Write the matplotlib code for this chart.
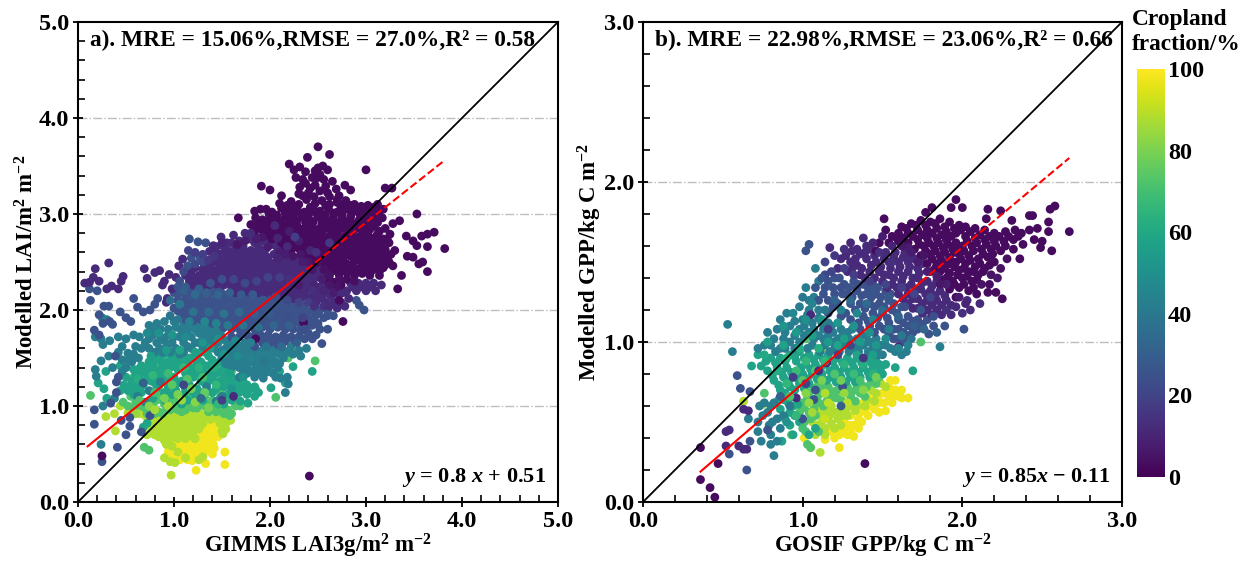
import matplotlib
matplotlib.use("Agg")
import matplotlib.pyplot as plt
from matplotlib.ticker import MultipleLocator

plt.rcParams["font.family"] = ["Liberation Serif", "DejaVu Serif"]
plt.rcParams["font.weight"] = "bold"
plt.rcParams["mathtext.fontset"] = "custom"
plt.rcParams["mathtext.rm"] = "Liberation Serif:bold"
plt.rcParams["mathtext.bf"] = "Liberation Serif:bold"
plt.rcParams["mathtext.it"] = "Liberation Serif:italic"

# panel a, points as (GIMMS LAI, modelled LAI), by cropland fraction
a_03 = [(2.50,3.70),(2.39,3.59),(2.62,3.62),(2.20,3.52),(2.25,3.46),(2.31,3.49),(2.37,3.44),(2.47,3.45),(2.55,3.50),(2.60,3.46),(2.50,3.48),(2.44,3.38),(3.00,3.46),(2.65,3.34),(2.78,3.30),(2.31,3.28),(2.37,3.32),(2.47,3.30),(2.56,3.36),(2.69,3.26),(2.84,3.25),(3.20,3.27),(3.27,3.27),(1.91,3.29),(2.00,3.25),(2.40,3.22),(2.52,3.24),(2.60,3.22),(2.72,3.19),(2.12,3.19),
(2.22,3.13),(2.30,3.10),(2.38,3.15),(2.47,3.11),(2.54,3.14),(2.62,3.10),(2.70,3.12),(2.79,3.14),(2.88,3.10),(3.02,3.09),(3.12,3.10),(3.18,3.05),
(1.96,3.05),(2.02,3.02),(2.12,3.06),(2.20,3.03),(2.28,3.05),(2.36,3.02),(2.45,3.05),(2.52,3.03),(2.61,3.05),(2.70,3.02),(2.80,3.05),(2.90,3.03),(2.98,3.05),(3.05,3.02),(3.14,3.03),
(1.85,2.96),(1.92,2.94),(2.00,2.97),(2.08,2.94),(2.16,2.97),(2.24,2.95),(2.33,2.97),(2.41,2.94),(2.50,2.97),(2.58,2.94),(2.66,2.97),(2.75,2.95),(2.84,2.97),(2.93,2.94),(3.00,2.97),(3.08,2.94),(3.17,2.96),
(1.67,2.96),(1.84,3.03),(1.90,3.05),(3.35,2.93),(3.53,3.00),(3.28,2.90),(3.20,2.85),(3.25,2.79),(3.42,2.77),(3.49,2.72),(3.58,2.77),(3.64,2.79),(3.71,2.81),(3.82,2.64),(3.64,2.66),(3.53,2.67),(3.43,2.56),(3.49,2.55),(3.55,2.48),(3.59,2.50),(3.64,2.40),(3.37,2.36),
(1.80,2.89),(1.88,2.86),(1.96,2.88),(2.04,2.85),(2.12,2.88),(2.20,2.86),(2.28,2.88),(2.36,2.85),(2.44,2.88),(2.52,2.85),(2.60,2.88),(2.68,2.86),(2.76,2.88),(2.84,2.85),(2.92,2.88),(3.00,2.85),(3.08,2.87),(3.14,2.82),
(1.98,2.78),(2.06,2.80),(2.14,2.77),(2.22,2.80),(2.30,2.77),(2.38,2.80),(2.46,2.77),(2.54,2.80),(2.62,2.77),(2.70,2.80),(2.78,2.77),(2.86,2.80),(2.94,2.77),(3.02,2.79),(3.10,2.76),(3.18,2.74),
(2.12,2.70),(2.20,2.72),(2.28,2.69),(2.36,2.72),(2.44,2.69),(2.52,2.72),(2.60,2.69),(2.68,2.72),(2.76,2.69),(2.84,2.72),(2.92,2.69),(3.00,2.71),(3.08,2.68),(3.16,2.67),(3.24,2.70),(3.30,2.62),
(2.22,2.62),(2.30,2.64),(2.38,2.61),(2.46,2.64),(2.54,2.61),(2.62,2.64),(2.70,2.61),(2.78,2.64),(2.86,2.61),(2.94,2.64),(3.02,2.61),(3.10,2.63),(3.18,2.60),(3.26,2.58),
(2.44,2.53),(2.52,2.55),(2.60,2.53),(2.68,2.56),(2.76,2.53),(2.84,2.56),(2.92,2.53),(3.00,2.55),(3.08,2.52),(3.16,2.52),(3.24,2.50),
(2.62,2.45),(2.70,2.47),(2.78,2.44),(2.86,2.47),(2.94,2.44),(3.02,2.46),(3.10,2.44),(3.18,2.44),(2.72,2.37),(2.80,2.39),(2.88,2.36),(2.96,2.38),(3.04,2.36),(3.14,2.36),
(2.41,0.27),(0.25,0.48),(2.35,1.87),(2.76,1.88),(3.33,2.22),(2.72,2.10),(2.58,2.32),(2.66,2.29),(2.74,2.26),(1.85,1.70),
(2.26,3.08),(2.42,3.07),(2.58,3.09),(2.74,3.07),(2.84,3.09),(2.95,3.08),(3.08,3.07),(1.99,3.00),(2.07,2.99),(2.16,3.01),(2.24,2.99),(2.32,3.01),(2.40,2.99),(2.48,3.01),(2.57,2.99),(2.66,3.01),(2.75,2.99),(2.85,3.01),(2.94,2.99),(3.02,3.01),(3.10,2.99),
(1.88,2.91),(1.96,2.92),(2.04,2.90),(2.12,2.92),(2.20,2.90),(2.28,2.93),(2.37,2.91),(2.45,2.92),(2.54,2.90),(2.62,2.92),(2.70,2.91),(2.80,2.92),(2.88,2.90),(2.97,2.92),(3.04,2.90),(3.12,2.91),
(1.84,2.82),(1.92,2.83),(2.00,2.84),(2.08,2.82),(2.16,2.84),(2.24,2.82),(2.32,2.84),(2.40,2.83),(2.48,2.82),(2.56,2.84),(2.64,2.82),(2.72,2.84),(2.80,2.82),(2.88,2.84),(2.96,2.82),(3.04,2.84),(3.12,2.79),
(2.02,2.74),(2.10,2.75),(2.18,2.74),(2.26,2.73),(2.34,2.75),(2.42,2.74),(2.50,2.75),(2.58,2.73),(2.66,2.75),(2.74,2.73),(2.82,2.75),(2.90,2.73),(2.98,2.75),(3.06,2.73),(3.14,2.72),(3.22,2.74),
(2.16,2.66),(2.24,2.67),(2.32,2.65),(2.40,2.67),(2.48,2.65),(2.56,2.67),(2.64,2.65),(2.72,2.67),(2.80,2.65),(2.88,2.67),(2.96,2.65),(3.04,2.66),(3.12,2.65),(3.20,2.63),
(2.34,2.58),(2.42,2.57),(2.50,2.59),(2.58,2.57),(2.66,2.59),(2.74,2.57),(2.82,2.59),(2.90,2.57),(2.98,2.59),(3.06,2.57),(3.14,2.56),(3.22,2.54),
(2.48,2.49),(2.56,2.50),(2.64,2.49),(2.72,2.50),(2.80,2.48),(2.88,2.51),(2.96,2.49),(3.04,2.50),(3.12,2.48),(3.20,2.47),(3.28,2.46),(2.66,2.41),(2.74,2.42),(2.82,2.40),(2.90,2.42),(2.98,2.41),(3.06,2.41),(3.14,2.40),
(2.34,3.36),(2.42,3.27),(2.50,3.38),(2.58,3.29),(2.62,3.18),(2.34,3.19),(2.46,3.18),(2.30,3.21),(2.76,3.10),(2.27,3.38),(2.52,3.41),(2.70,3.15),(2.18,3.09),(2.10,3.11)]
a_12 = [(0.32,2.49),(0.18,2.43),(0.69,2.43),(0.80,2.39),(0.85,2.41),(0.47,2.35),(0.16,2.34),(0.72,2.33),(0.12,2.29),(0.07,2.28),(0.22,2.30),(0.30,2.22),(0.35,2.25),(0.42,2.22),(0.45,2.30),(1.02,2.34),(0.95,2.37),(1.05,2.46),(1.09,2.53),(0.90,2.30),(0.98,2.22),(0.88,2.26),(0.93,2.12),(0.92,2.08),
(1.41,2.67),(1.49,2.76),(1.55,2.70),(1.37,2.61),(1.62,2.78),(1.68,2.72),(1.74,2.80),(1.78,2.74),(1.84,2.78),(1.92,2.72),(1.56,2.62),(1.64,2.64),(1.72,2.66),(1.80,2.62),(1.88,2.66),(1.96,2.64),(2.04,2.68),(1.48,2.56),(1.56,2.54),(1.64,2.56),(1.72,2.54),(1.80,2.56),(1.88,2.54),(1.96,2.56),(2.04,2.58),(2.12,2.62),(2.18,2.54),(2.28,2.52),(2.36,2.54),
(1.38,2.48),(1.46,2.48),(1.54,2.46),(1.62,2.48),(1.70,2.46),(1.78,2.48),(1.86,2.46),(1.94,2.48),(2.02,2.46),(2.10,2.48),(2.18,2.46),(2.26,2.44),(2.34,2.46),(2.42,2.44),(2.50,2.46),(1.31,2.44),(1.18,2.40),(1.26,2.36),(1.34,2.38),(1.42,2.40),(1.50,2.38),(1.58,2.40),(1.66,2.38),(1.74,2.40),(1.82,2.38),(1.90,2.40),(1.98,2.38),(2.06,2.40),(2.14,2.38),(2.22,2.36),(2.30,2.38),(2.38,2.36),(2.46,2.38),(2.54,2.38),
(1.16,2.30),(1.24,2.28),(1.32,2.30),(1.40,2.32),(1.48,2.30),(1.56,2.32),(1.64,2.30),(1.72,2.32),(1.80,2.30),(1.88,2.32),(1.96,2.30),(2.04,2.32),(2.12,2.30),(2.20,2.28),(2.28,2.30),(2.36,2.28),(2.44,2.30),(2.52,2.24),(2.60,2.24),(2.68,2.20),(2.76,2.18),(2.84,2.28),(2.92,2.28),(3.00,2.28),(3.08,2.28),(3.16,2.26),(3.10,2.20),(3.00,2.20),(2.90,2.20),(2.82,2.12),(2.70,2.02),(2.78,2.04),(2.62,2.16),(2.50,2.16),(2.58,2.08),(2.48,2.08),(2.40,2.22),(2.32,2.20),(2.24,2.20),(2.16,2.22),(2.08,2.24),(2.00,2.22),(1.92,2.24),(1.84,2.22),(1.76,2.24),(1.68,2.22),(1.60,2.24),(2.40,2.12),(2.32,2.12),(2.24,2.12),(2.16,2.14),(2.08,2.16),
(1.52,2.66),(1.60,2.70),(1.68,2.64),(1.76,2.60),(1.84,2.70),(1.92,2.60),(2.00,2.72),(2.08,2.64),(1.44,2.60),(1.52,2.60),(1.60,2.58),(1.68,2.60),(1.76,2.58),(1.84,2.60),(1.42,2.52),(1.50,2.52),(1.58,2.50),(1.66,2.52),(1.74,2.50),(1.82,2.52),(1.90,2.50),(1.98,2.52),(2.06,2.50),(2.14,2.52),(2.22,2.50),(2.30,2.48),(2.38,2.49),
(1.22,2.44),(1.30,2.42),(1.38,2.43),(1.46,2.43),(1.54,2.42),(1.62,2.44),(1.70,2.42),(1.78,2.44),(1.86,2.42),(1.94,2.44),(2.02,2.42),(2.10,2.44),(2.18,2.42),(2.26,2.40),(2.34,2.42),(2.42,2.40),(2.50,2.41),(2.58,2.42),
(1.12,2.36),(1.20,2.34),(1.28,2.33),(1.36,2.34),(1.44,2.36),(1.52,2.34),(1.60,2.36),(1.68,2.34),(1.76,2.36),(1.84,2.34),(1.92,2.36),(2.00,2.34),(2.08,2.36),(2.16,2.34),(2.24,2.32),(2.32,2.34),(2.40,2.32),(2.48,2.34),(2.56,2.28),
(1.20,2.26),(1.28,2.24),(1.36,2.26),(1.44,2.27),(1.52,2.26),(1.60,2.28),(1.68,2.26),(1.76,2.28),(1.84,2.26),(1.92,2.28),(2.00,2.26),(2.08,2.28),(2.16,2.26),(2.24,2.24),(2.32,2.25),(2.40,2.26),(2.48,2.22),(2.56,2.18),(2.64,2.14),(2.72,2.16),(2.80,2.20),(2.86,2.24),(2.96,2.24),(3.04,2.24),(2.28,2.16),(2.36,2.16),(2.44,2.14),(2.20,2.16),(2.12,2.18),(2.04,2.18),(1.96,2.18),(1.88,2.18),(1.80,2.18),(1.72,2.18),(1.64,2.18),(2.54,2.12),(2.66,2.08),(2.74,2.08)]
a_25 = [(1.16,2.74),(1.25,2.71),(1.33,2.70),(1.18,2.54),(1.27,2.55),(0.12,2.22),(0.20,2.20),(0.13,2.10),(0.27,2.04),(0.32,2.04),(0.22,1.95),(0.44,1.98),(0.58,2.12),(0.62,2.03),(0.68,1.98),(0.75,2.00),(0.80,2.06),(0.83,2.12),(0.50,1.92),(0.55,1.88),(0.33,1.88),(0.17,1.79),(0.22,1.74),(0.36,1.85),(0.26,1.86),(0.17,0.96),(0.17,0.81),(0.25,0.42),(0.41,0.57),(0.50,0.70),(0.54,0.79),(0.66,0.73),(0.75,0.90),(0.45,0.85),(0.34,1.03),(0.40,1.14),(0.42,1.30),(0.39,1.52),(0.40,1.25),
(1.00,2.18),(1.08,2.22),(1.16,2.20),(1.24,2.22),(1.32,2.20),(1.40,2.22),(1.48,2.20),(1.04,2.10),(1.12,2.12),(1.20,2.10),(1.28,2.12),(1.36,2.10),(1.44,2.12),(1.52,2.12),(1.60,2.14),(1.68,2.12),(1.76,2.14),(1.84,2.12),(1.92,2.14),(2.00,2.12),(1.00,2.02),(1.08,2.04),(1.16,2.02),(1.24,2.04),(1.32,2.02),(1.40,2.04),(1.48,2.02),(1.56,2.04),(1.64,2.04),(1.72,2.06),(1.80,2.04),(1.88,2.06),(1.96,2.04),(2.04,2.06),(2.12,2.04),(2.20,2.04),(2.28,2.04),(2.36,2.04),(2.44,2.00),(2.52,2.00),(2.60,2.00),(2.66,1.94),(2.56,1.92),(2.46,1.92),(2.36,1.96),(2.28,1.96),(2.20,1.96),(2.12,1.96),(2.04,1.98),(1.96,1.96),(1.88,1.98),(1.80,1.96),(1.72,1.98),(1.64,1.96),(1.56,1.96),(1.48,1.94),(1.40,1.96),(1.32,1.94),(1.24,1.96),(1.16,1.94),(1.08,1.96),
(1.40,1.86),(1.48,1.86),(1.56,1.88),(1.64,1.88),(1.72,1.90),(1.80,1.88),(1.88,1.90),(1.96,1.88),(2.04,1.90),(2.12,1.88),(2.20,1.88),(2.28,1.88),(2.44,1.84),(2.52,1.80),(2.60,1.80),(2.48,1.74),(2.40,1.76),(2.32,1.78),(2.24,1.80),(2.16,1.80),(2.08,1.82),(2.00,1.80),(1.92,1.82),(1.84,1.80),(1.76,1.82),(1.68,1.80),(1.60,1.80),(1.90,1.74),(1.98,1.74),(2.06,1.72),(2.14,1.74),(2.22,1.72),(2.30,1.72),(2.54,1.65),(2.15,1.67),(2.08,1.64),(2.00,1.66),(1.92,1.66),(1.84,1.62),(1.76,1.74),(1.68,1.72),(1.60,1.72),(2.98,2.00),(2.93,2.05),(2.90,2.10),
(1.04,2.16),(1.12,2.16),(1.20,2.15),(1.28,2.17),(1.36,2.16),(1.44,2.17),(1.52,2.16),(1.08,2.08),(1.16,2.07),(1.24,2.08),(1.32,2.07),(1.40,2.08),(1.48,2.07),(1.56,2.08),(1.64,2.09),(1.72,2.10),(1.80,2.08),(1.88,2.10),(1.96,2.08),(2.04,2.10),(2.12,2.09),(2.20,2.08),(2.28,2.08),(1.04,1.99),(1.12,1.98),(1.20,2.00),(1.28,1.99),(1.36,2.00),(1.44,1.98),(1.52,2.00),(1.60,2.00),(1.68,2.01),(1.76,2.02),(1.84,2.00),(1.92,2.01),(2.00,2.00),(2.08,2.02),(2.16,2.00),(2.24,2.00),(2.32,2.00),(2.40,1.98),(2.50,1.96),(2.60,1.94),
(1.12,1.90),(1.20,1.89),(1.28,1.90),(1.36,1.90),(1.44,1.90),(1.52,1.92),(1.60,1.92),(1.68,1.93),(1.76,1.94),(1.84,1.92),(1.92,1.93),(2.00,1.92),(2.08,1.94),(2.16,1.92),(2.24,1.92),(2.32,1.92),(2.40,1.90),(2.50,1.86),(2.40,1.84),(2.32,1.84),(2.24,1.86),(2.16,1.84),(2.08,1.86),(2.00,1.84),(1.92,1.86),(1.84,1.84),(1.76,1.86),(1.68,1.84),(1.60,1.84),(1.52,1.82),(2.44,1.70),(2.36,1.70),(2.26,1.68),(2.18,1.70),(2.10,1.68),(2.02,1.70),(1.94,1.70),(1.86,1.76),(1.80,1.72),(1.72,1.76)]
a_42 = [(0.24,0.60),(0.26,1.00),(0.38,1.08),(0.25,1.92),(0.30,1.90),(0.18,1.72),(0.26,1.64),(0.24,1.70),(0.33,1.68),(0.42,1.72),(0.46,1.62),(0.50,1.70),(0.42,1.56),(0.58,1.74),(0.64,1.72),(0.60,1.62),(0.52,1.55),(0.24,1.47),(0.18,1.38),(0.19,1.31),(0.36,1.40),(0.50,1.40),(0.56,1.46),(0.63,1.50),(0.70,1.66),(0.78,1.74),(0.86,1.72),(0.94,1.80),(1.00,1.88),(0.74,1.84),(0.82,1.86),(0.90,1.88),(0.85,1.60),(0.93,1.62),(1.00,1.72),(1.08,1.78),(1.16,1.82),(1.24,1.86),(1.32,1.84),(1.02,1.60),(1.10,1.66),(1.18,1.72),(1.26,1.76),(1.34,1.76),(1.42,1.78),(1.50,1.80),(1.10,1.56),(1.18,1.60),(1.26,1.66),(1.34,1.68),(1.42,1.70),(1.50,1.72),(1.58,1.64),(1.66,1.64),(1.74,1.66),(1.42,1.60),(1.50,1.58),(1.58,1.56),(1.66,1.56),(1.74,1.58),(1.82,1.54),(1.90,1.56),(1.98,1.58),(2.06,1.56),(2.14,1.58),(2.22,1.62),(2.30,1.58),(2.38,1.60),(2.32,1.52),(2.24,1.54),(1.50,1.50),(1.58,1.48),(1.66,1.48),(1.74,1.50),(1.82,1.46),(1.90,1.48),(1.98,1.50),(2.06,1.46),(2.14,1.50),(2.19,1.23),(1.60,1.40),(1.68,1.40),(1.76,1.42),(1.84,1.38),(1.92,1.40),(2.00,1.42),(2.08,1.40),(1.34,1.20),(1.44,1.05),(1.50,1.10),(1.68,1.30),(1.76,1.34),(1.84,1.30),(1.93,1.29),(2.03,1.34),(2.11,1.29),(2.16,1.14),(2.18,1.30),(0.70,1.04),(0.62,1.10),(0.74,1.16),(0.86,1.25),
(0.78,1.80),(0.86,1.80),(0.94,1.74),(1.02,1.82),(1.10,1.84),(1.18,1.86),(1.28,1.82),(1.36,1.80),(1.44,1.82),(0.74,1.70),(0.82,1.66),(0.90,1.68),(0.98,1.66),(1.06,1.72),(1.14,1.76),(1.22,1.80),(1.30,1.72),(1.38,1.72),(1.46,1.74),(0.66,1.60),(0.74,1.60),(0.80,1.56),(0.88,1.56),(0.96,1.56),(1.06,1.54),(1.14,1.62),(1.22,1.66),(1.30,1.62),(1.38,1.64),(1.46,1.66),(1.54,1.68),(1.62,1.68),(1.54,1.60),(1.62,1.60),(1.70,1.60),(1.78,1.62),(1.86,1.58),(1.94,1.60),(2.02,1.60),(2.10,1.60),(1.46,1.56),(1.54,1.54),(1.62,1.52),(1.70,1.52),(1.78,1.54),(1.86,1.52),(1.94,1.54),(2.02,1.52),(2.10,1.54),(2.18,1.56),(1.54,1.44),(1.62,1.44),(1.70,1.44),(1.78,1.46),(1.86,1.42),(1.94,1.44),(2.02,1.46),(2.10,1.44),(1.72,1.36),(1.80,1.36),(1.88,1.34),(1.96,1.35),(2.06,1.30),(0.46,1.48),(0.52,1.48),(0.46,1.36),(0.32,1.52),(0.58,1.54)]
a_58 = [(0.29,1.36),(0.21,1.24),(0.27,1.18),(0.30,1.08),(0.44,1.42),(0.50,1.30),(0.58,1.38),(0.66,1.42),(0.74,1.46),(0.82,1.50),(0.90,1.54),(0.98,1.50),(1.06,1.48),(1.14,1.44),(0.56,1.26),(0.64,1.30),(0.72,1.34),(0.80,1.38),(0.88,1.42),(0.96,1.40),(1.04,1.38),(1.12,1.34),(1.20,1.50),(1.28,1.56),(1.36,1.52),(1.20,1.40),(1.28,1.46),(1.36,1.42),(1.44,1.44),(1.52,1.40),(1.60,1.30),(1.20,1.30),(1.28,1.36),(1.36,1.32),(1.44,1.34),(1.52,1.30),(1.60,1.22),(1.68,1.22),(1.76,1.22),(1.84,1.20),(2.01,1.19),(2.16,1.24),(2.24,1.41),(2.44,1.36),(2.10,1.36),(1.28,1.26),(1.36,1.26),(1.44,1.24),(1.52,1.20),(1.60,1.14),(1.68,1.14),(1.76,1.12),(1.84,1.10),(1.77,1.03),(1.69,1.05),(1.60,1.06),(1.52,1.02),(1.40,1.14),(1.24,1.18),(1.16,1.22),(1.08,1.26),(1.00,1.30),(0.92,1.34),(0.84,1.30),(0.76,1.26),(0.68,1.22),(0.60,1.18),(0.52,1.16),(1.10,1.12),(1.02,1.16),(0.94,1.20),(0.78,1.08),(0.90,1.06),(1.08,1.02),(1.22,1.06),(0.68,0.78),(0.72,0.82),
(0.62,1.38),(0.70,1.40),(0.78,1.44),(0.86,1.48),(0.94,1.46),(1.02,1.52),(1.10,1.50),(1.16,1.50),(1.24,1.52),(1.32,1.56),(0.60,1.32),(0.68,1.36),(0.76,1.38),(0.84,1.36),(0.92,1.40),(1.00,1.44),(1.08,1.42),(1.16,1.34),(1.24,1.44),(1.32,1.42),(1.40,1.48),(1.48,1.46),(1.56,1.34),(1.24,1.34),(1.32,1.34),(1.40,1.38),(1.48,1.36),(1.56,1.28),(1.64,1.26),(1.72,1.18),(1.80,1.18),(1.88,1.14),(1.32,1.24),(1.40,1.28),(1.48,1.26),(1.56,1.22),(1.64,1.18),(1.56,1.12),(1.48,1.08),(1.44,1.18),(1.28,1.14),(1.20,1.14),(1.12,1.18),(1.04,1.24),(0.96,1.26),(0.88,1.28),(0.80,1.24),(0.72,1.28),(0.64,1.24),(0.56,1.22),(0.48,1.22),(0.44,1.16),(0.58,1.12),(0.66,1.14),(0.82,1.18),(0.90,1.14),(0.98,1.12),(1.06,1.10),(1.14,1.06),(1.30,1.06)]
a_72 = [(0.13,1.11),(0.47,1.04),(0.55,1.10),(0.62,1.16),(0.70,0.98),(0.78,1.00),(0.86,1.10),(0.94,1.12),(0.84,1.20),(0.52,1.00),(0.60,1.04),(0.46,1.48),(0.58,1.30),(0.82,1.44),(1.02,1.44),(1.16,1.38),(1.24,1.14),(1.32,1.10),(1.40,1.06),(1.48,1.14),(1.56,1.08),(1.64,1.00),(1.69,1.00),(1.85,1.18),(1.72,1.26),(1.60,1.36),(2.06,1.09),(2.47,1.47),(2.19,1.50),(1.16,1.12),(1.00,1.00),(0.92,0.96),(0.84,0.94),(0.76,0.94),(1.08,0.94),(1.16,1.02),(1.24,0.98),(1.32,1.00),(1.40,0.96),(1.48,0.96),(1.56,0.96),(1.60,0.92),(0.69,0.57),(0.74,0.54),(1.04,1.08),
(0.58,0.98),(0.66,1.00),(0.74,1.04),(0.82,1.06),(0.90,1.02),(0.96,1.06),(1.04,1.02),(1.12,1.00),(1.20,0.98),(1.28,1.02),(1.36,1.02),(1.44,1.00),(1.52,0.98),(0.72,0.92),(0.80,0.92),(0.88,0.92),(0.96,0.96),(1.04,0.96),(1.12,0.96),(1.36,0.94),(1.44,0.94),(1.52,0.92),(1.58,0.90)]
a_88 = [(0.29,0.89),(0.38,0.92),(0.39,0.74),(0.44,1.00),(0.52,0.93),(0.58,0.96),(0.64,0.92),(0.70,0.90),(0.74,0.84),(0.80,0.86),(0.86,0.88),(0.92,0.88),(0.98,0.92),(1.04,0.88),(1.10,0.90),(1.16,0.94),(1.22,0.90),(1.28,0.92),(1.34,0.90),(1.40,0.88),(1.46,0.90),(1.52,0.88),(0.76,0.76),(0.82,0.78),(0.88,0.80),(0.94,0.80),(1.00,0.82),(1.06,0.80),(1.12,0.84),(1.18,0.82),(1.24,0.84),(1.30,0.82),(1.48,0.82),(1.54,0.82),(1.59,0.85),(0.72,0.70),(0.80,0.70),(0.84,0.68),(0.90,0.72),(0.96,0.74),(1.02,0.74),(1.08,0.72),(1.14,0.76),(1.20,0.74),(1.26,0.76),(1.50,0.74),(1.51,0.71),(0.97,0.28),(0.90,0.46),(1.01,0.41),(1.12,0.46),(1.26,0.44),(1.30,0.47),(0.96,0.66),(1.04,0.66),(1.12,0.66),(1.20,0.68),(0.90,0.64),(0.98,0.58),
(0.78,0.82),(0.84,0.84),(0.90,0.84),(0.96,0.86),(1.02,0.86),(1.08,0.84),(1.14,0.88),(1.20,0.86),(1.26,0.88),(1.32,0.86),(1.38,0.86),(0.86,0.74),(0.92,0.76),(0.98,0.78),(1.04,0.76),(1.10,0.78),(1.16,0.80),(1.22,0.78),(1.28,0.80),(1.46,0.86),(1.54,0.76),(1.00,0.70),(1.06,0.68),(1.14,0.70),(1.22,0.66),(0.92,0.60),(1.04,0.52),(0.96,0.42)]
a_98 = [(1.23,0.33),(1.53,0.39),(1.33,0.40),(1.19,0.43),(1.40,0.50),(1.53,0.52),(1.41,0.60),(1.35,0.60),(1.28,0.56),(1.22,0.50),(1.14,0.50),(1.06,0.50),(0.98,0.48),(1.02,0.56),(1.08,0.58),(1.16,0.58),(1.24,0.62),(1.32,0.66),(1.38,0.70),(1.44,0.72),(1.30,0.72),(1.36,0.78),(1.42,0.80),(1.38,0.84),(1.44,0.76),(1.24,0.68),(1.16,0.64),(1.08,0.62),(1.00,0.62),(0.94,0.58),(0.94,0.52),(1.36,0.54),(1.30,0.62),(1.18,0.52),(1.10,0.54),
(1.26,0.50),(1.32,0.52),(1.20,0.56),(1.12,0.60),(1.04,0.60),(1.28,0.66),(1.34,0.72),(1.40,0.66),(1.46,0.68),(1.32,0.78),(1.26,0.72),(1.20,0.62),(1.36,0.64),(1.42,0.56),(1.14,0.44),(1.06,0.44)]
# panel a points whose colour stands out from their neighbours: (x, y, fraction)
a_mixed = [(2.08,2.75,10),(2.18,2.66,12),(2.30,2.72,8),(2.42,2.62,10),(2.05,2.88,12),(2.20,2.82,8),(2.10,2.60,8),(2.24,2.56,6),(2.32,2.58,6),(2.16,2.58,8),(2.08,2.54,10),(2.40,2.50,6),(2.50,2.50,4),(2.56,2.42,4),(2.44,2.42,6),(2.34,2.50,8),(2.48,2.60,14),(2.62,2.70,16),(2.26,2.76,18),(1.98,2.66,8),(1.92,2.76,6),(1.86,2.74,8),(1.80,2.80,12),(1.74,2.72,8),(1.66,2.68,6),
(1.15,2.62,20),(1.22,2.60,18),(1.30,2.58,18),(1.30,2.50,22),(1.22,2.48,22),(1.14,2.46,25),(1.42,2.56,15),(1.36,2.52,16),(1.44,2.66,12),(1.50,2.70,10),(1.10,2.40,22),(1.06,2.30,24),(1.12,2.24,28),(1.04,2.24,26),
(2.72,2.32,4),(2.80,2.32,3),(2.88,2.30,4),(2.62,2.36,5),(2.54,2.32,8),(2.46,2.26,10),(2.62,2.26,6),(2.70,2.24,5),(2.56,2.20,10),(2.66,2.18,8),(2.44,2.20,14),(2.34,2.30,12),(2.20,2.32,14),(2.30,2.26,8),(2.10,2.34,18),(1.98,2.34,20),(1.86,2.30,20),(1.74,2.28,22),(1.62,2.32,20),(1.50,2.32,24),(1.38,2.28,26),(1.26,2.22,30),
(2.40,2.08,18),(2.30,2.08,20),(2.18,2.10,22),(2.06,2.14,24),(1.94,2.10,26),(1.82,2.16,28),(1.70,2.16,28),(1.58,2.18,30),(1.46,2.16,32),(1.34,2.18,30),(1.22,2.16,34),(1.10,2.20,30),(2.46,2.04,14),(2.56,2.04,14),(2.62,2.04,12),(2.34,1.92,20),(2.18,1.92,24),(2.00,1.96,28),(1.84,1.96,30),(1.68,1.98,34),(1.52,1.96,38),(1.36,1.98,34),(1.20,1.98,38),(1.06,2.06,40),(0.96,2.10,34),(0.96,1.94,38),(1.04,1.90,40),
(2.36,1.80,24),(2.20,1.84,30),(2.04,1.84,32),(1.88,1.82,36),(1.72,1.84,38),(1.56,1.84,40),(1.44,1.86,44),(1.32,1.88,46),(1.16,1.88,44),(2.28,1.66,30),(2.12,1.62,34),(1.96,1.62,38),(1.80,1.66,42),(1.64,1.68,46),(1.46,1.70,50),(1.30,1.66,52),(1.12,1.72,48),(0.98,1.74,52),(0.84,1.76,50),(0.72,1.76,48),
(1.94,1.46,40),(1.80,1.50,44),(1.66,1.52,48),(1.52,1.54,52),(1.38,1.60,54),(1.22,1.56,56),(1.06,1.58,58),(0.92,1.58,54),(0.76,1.52,56),(1.72,1.30,50),(1.58,1.34,56),(1.42,1.40,62),(1.26,1.40,64),(1.10,1.40,66),(0.94,1.34,68),(0.78,1.32,66),(0.62,1.28,62),(1.60,1.18,52),(1.44,1.22,66),(1.30,1.30,70),(1.14,1.28,72),(0.98,1.22,74),(0.80,1.14,70),(0.64,1.06,72),(1.46,1.02,66),(1.32,1.14,76),(1.18,1.18,78),(1.04,1.12,80),(0.90,1.08,80),(0.74,1.00,82),(0.60,0.92,84),(1.36,0.98,80),(1.22,1.04,82),(1.08,1.06,84),(0.94,1.00,86),(0.80,0.96,86),(0.54,0.88,25),(0.68,1.24,30),(1.10,1.22,20),(1.28,1.08,35),(1.50,1.06,18),(1.62,1.10,12)]

# panel b, (GOSIF GPP, modelled GPP), by cropland fraction
b_03 = [(1.96,1.89),(1.81,1.84),(1.77,1.81),(1.93,1.84),(2.00,1.84),(2.16,1.83),(2.24,1.82),(2.58,1.85),(2.55,1.83),(2.42,1.79),(2.44,1.79),(1.51,1.77),(2.67,1.69),(2.56,1.57),(2.54,1.75),(2.31,1.76),(2.15,1.77),(2.36,1.52),(2.49,1.59),(2.54,1.69),(2.47,1.71),(2.42,1.70),(2.37,1.68),(2.50,1.63),(2.45,1.64),(2.38,1.61),(2.32,1.58),(2.24,1.57),(2.20,1.50),(2.25,1.27),(2.21,1.31),(2.16,1.31),(2.09,1.30),(2.17,1.36),(1.39,0.24),(0.36,0.34),(0.36,0.14),(0.42,0.09),(0.45,0.03),(0.47,0.24),
(1.62,1.72),(1.68,1.74),(1.74,1.76),(1.80,1.75),(1.86,1.77),(1.92,1.75),(1.98,1.73),(1.52,1.70),(1.56,1.66),(1.60,1.68),(1.66,1.68),(1.72,1.70),(1.78,1.70),(1.84,1.71),(1.90,1.69),(1.96,1.68),(2.02,1.72),(2.08,1.71),(2.14,1.70),(2.20,1.68),(2.27,1.69),(2.33,1.70),(1.48,1.62),(1.54,1.62),(1.60,1.63),(1.66,1.62),(1.72,1.64),(1.78,1.65),(1.84,1.65),(1.90,1.64),(1.96,1.62),(2.02,1.66),(2.08,1.65),(2.14,1.64),(2.20,1.63),(2.26,1.63),(2.32,1.64),
(1.46,1.57),(1.70,1.58),(1.76,1.60),(1.82,1.60),(1.88,1.59),(1.94,1.58),(2.00,1.60),(2.06,1.60),(2.12,1.58),(2.18,1.58),(1.74,1.54),(1.80,1.55),(1.86,1.54),(1.92,1.53),(1.98,1.55),(2.04,1.54),(2.10,1.52),(2.16,1.53),(1.78,1.49),(1.84,1.49),(1.90,1.48),(1.96,1.50),(2.02,1.49),(2.08,1.47),(2.14,1.46),(1.80,1.44),(1.86,1.44),(1.92,1.43),(1.98,1.45),(2.04,1.44),(2.10,1.42),(1.88,1.39),(1.94,1.38),(2.00,1.40),(2.06,1.38),(1.92,1.33),(1.98,1.34),(2.04,1.32),(1.96,1.28),
(1.65,1.71),(1.71,1.73),(1.77,1.73),(1.83,1.74),(1.89,1.72),(1.95,1.71),(1.59,1.65),(1.63,1.65),(1.69,1.66),(1.75,1.67),(1.81,1.68),(1.87,1.67),(1.93,1.66),(1.99,1.70),(2.05,1.69),(2.11,1.67),(2.17,1.66),(2.23,1.66),(2.29,1.66),(2.35,1.66),(1.73,1.61),(1.79,1.62),(1.85,1.62),(1.91,1.61),(1.97,1.59),(2.03,1.63),(2.09,1.62),(2.15,1.61),(2.21,1.60),(2.27,1.60),(1.77,1.57),(1.83,1.57),(1.89,1.56),(1.95,1.56),(2.01,1.57),(2.07,1.57),(2.13,1.55),(2.19,1.55),(1.81,1.52),(1.87,1.51),(1.93,1.50),(1.99,1.52),(2.05,1.51),(2.11,1.49),(2.17,1.48),(1.83,1.46),(1.89,1.46),(1.95,1.47),(2.01,1.46),(2.07,1.44),(2.13,1.44),(1.91,1.41),(1.97,1.42),(2.03,1.41),(2.09,1.39),(1.95,1.36),(2.01,1.36),(2.07,1.34)]
b_12 = [(1.17,1.59),(1.30,1.62),(1.38,1.65),(1.31,1.57),(1.24,1.52),(1.30,1.50),(1.22,1.46),(1.36,1.55),(1.42,1.58),(1.28,1.44),(1.34,1.48),(1.40,1.52),(1.46,1.50),(1.52,1.56),(1.58,1.56),(1.64,1.56),(1.70,1.52),(1.36,1.42),(1.42,1.44),(1.48,1.44),(1.54,1.50),(1.60,1.50),(1.66,1.50),(1.72,1.46),(1.54,1.42),(1.60,1.44),(1.66,1.44),(1.72,1.40),(1.78,1.38),(1.84,1.38),(1.50,1.38),(1.56,1.36),(1.62,1.38),(1.68,1.36),(1.74,1.33),(1.80,1.32),(1.86,1.32),(1.60,1.30),(1.66,1.30),(1.72,1.27),(1.78,1.26),(1.84,1.26),(1.90,1.26),(1.66,1.24),(1.72,1.21),(1.78,1.20),(1.84,1.20),(2.03,1.26),(2.11,1.24),(2.05,1.20),(1.93,1.17),(1.60,0.97),(0.52,0.35),(0.60,0.35),(0.63,0.33),(0.65,0.33),(0.52,0.44),(0.54,0.45),(0.63,0.58),(0.66,0.57),(0.96,0.65),(1.05,1.17),(1.15,0.87),
(1.27,1.54),(1.33,1.52),(1.39,1.56),(1.45,1.54),(1.51,1.52),(1.57,1.53),(1.63,1.53),(1.67,1.53),(1.31,1.46),(1.37,1.46),(1.43,1.48),(1.49,1.47),(1.55,1.46),(1.61,1.47),(1.67,1.47),(1.73,1.43),(1.75,1.49),(1.39,1.40),(1.45,1.40),(1.51,1.42),(1.57,1.40),(1.63,1.41),(1.69,1.40),(1.75,1.37),(1.81,1.35),(1.53,1.34),(1.59,1.34),(1.65,1.34),(1.71,1.33),(1.77,1.30),(1.83,1.29),(1.89,1.29),(1.63,1.27),(1.69,1.27),(1.75,1.24),(1.81,1.23),(1.87,1.23),(1.93,1.23),(1.69,1.21),(1.75,1.18),(1.81,1.17),(1.87,1.17)]
b_25 = [(1.04,1.61),(1.02,1.57),(1.20,1.40),(1.14,1.34),(1.20,1.30),(1.26,1.36),(1.32,1.38),(1.38,1.36),(1.44,1.36),(1.10,1.26),(1.16,1.26),(1.22,1.24),(1.28,1.30),(1.34,1.32),(1.40,1.30),(1.46,1.30),(1.52,1.32),(1.30,1.24),(1.36,1.24),(1.42,1.24),(1.48,1.24),(1.54,1.26),(1.50,1.18),(1.56,1.20),(1.62,1.22),(1.44,1.18),(1.38,1.16),(1.60,1.14),(1.66,1.16),(1.72,1.14),(1.78,1.14),(1.82,1.10),(1.89,1.10),(1.79,1.05),(1.72,1.08),(1.66,1.10),(1.60,1.08),(1.54,1.12),(1.66,1.04),(1.60,1.02),(1.54,1.05),(1.48,1.10),(1.42,1.10),(1.36,1.08),(1.30,1.14),(1.24,1.16),(1.16,1.18),(2.01,1.08),(1.25,0.72),(1.07,0.64),(1.00,0.52),(0.59,0.79),(0.61,0.71),(0.67,0.69),(0.65,0.20),(0.54,0.30),(0.67,0.38),(0.78,0.45),
(1.16,1.38),(1.23,1.40),(1.29,1.34),(1.35,1.36),(1.41,1.34),(1.47,1.34),(1.13,1.30),(1.19,1.34),(1.25,1.30),(1.31,1.28),(1.37,1.29),(1.43,1.28),(1.49,1.28),(1.55,1.30),(1.33,1.20),(1.39,1.21),(1.45,1.22),(1.51,1.22),(1.57,1.24),(1.59,1.18),(1.53,1.15),(1.47,1.15),(1.41,1.13),(1.35,1.12),(1.27,1.18),(1.19,1.22),(1.63,1.12),(1.69,1.13),(1.75,1.11),(1.69,1.06),(1.63,1.06),(1.57,1.08),(1.51,1.08),(1.45,1.06),(1.57,1.02),(1.63,1.00)]
b_42 = [(1.08,1.46),(1.10,1.38),(1.02,1.34),(1.07,1.28),(0.98,1.22),(1.04,1.20),(1.10,1.20),(1.00,1.14),(1.06,1.12),(1.12,1.12),(1.18,1.10),(1.24,1.08),(0.90,1.18),(0.86,1.14),(0.92,1.10),(0.98,1.08),(1.04,1.06),(1.10,1.04),(1.16,1.04),(1.22,1.02),(1.28,1.06),(1.34,1.02),(1.40,1.04),(1.46,1.02),(1.52,0.98),(1.58,0.94),(1.62,0.92),(1.65,0.94),(1.86,0.97),(0.53,1.11),(0.56,0.94),(0.78,1.06),(0.84,1.08),(0.72,0.96),(0.80,0.98),(0.86,0.96),(0.92,1.00),(0.98,1.00),(1.06,0.98),(1.14,0.98),(1.20,0.96),(1.26,0.98),(1.32,0.96),(1.38,0.98),(1.44,0.96),(1.50,0.92),(0.82,0.29),(0.66,0.52),(0.72,0.44),(0.80,0.42),(0.86,0.46),(0.84,0.52),(0.78,0.56),(0.72,0.50),(0.76,0.62),(0.82,0.62),(0.84,0.38),(0.74,0.38),(0.80,0.36),
(1.04,1.26),(1.10,1.15),(1.03,1.17),(1.16,1.12),(0.95,1.13),(1.01,1.10),(1.07,1.08),(1.13,1.08),(1.19,1.06),(1.25,1.04),(1.31,1.08),(1.37,1.04),(1.43,1.00),(1.49,0.98),(1.55,0.96),(0.89,1.06),(0.95,1.04),(1.01,1.04),(1.07,1.02),(1.13,1.02),(1.19,1.00),(1.29,1.02),(1.35,0.98),(1.41,1.00),(1.47,0.96),(0.82,1.02),(0.88,1.02),(0.76,0.98),(0.83,0.94),(0.89,0.96),(0.95,0.96),(1.03,0.96),(1.11,0.94),(1.17,0.94),(1.23,0.94),(1.29,0.94),(1.35,0.94),(1.41,0.94),(1.47,0.92),(0.79,0.48),(0.75,0.54),(0.81,0.50),(0.80,0.60),(0.73,0.60),(0.88,0.54)]
b_58 = [(0.74,0.85),(0.68,0.85),(0.72,0.92),(0.80,0.90),(0.86,0.90),(0.92,0.92),(0.98,0.94),(1.04,0.92),(1.10,0.92),(1.16,0.92),(1.22,0.90),(1.28,0.90),(1.34,0.90),(1.40,0.90),(1.46,0.90),(1.52,0.86),(1.58,0.84),(1.69,0.82),(0.78,0.82),(0.84,0.84),(0.90,0.84),(0.96,0.88),(1.02,0.86),(1.08,0.86),(1.14,0.86),(1.20,0.84),(1.26,0.84),(1.32,0.84),(1.38,0.84),(1.44,0.84),(1.50,0.80),(0.82,0.76),(0.88,0.78),(0.94,0.78),(1.00,0.80),(1.06,0.80),(1.12,0.80),(1.18,0.78),(1.24,0.78),(1.30,0.78),(1.36,0.78),(1.42,0.78),(0.86,0.70),(0.92,0.72),(0.98,0.74),(1.04,0.74),(0.88,0.64),(0.94,0.66),(0.86,0.58),(0.92,0.56),(0.98,0.50),(0.92,0.48),(0.87,0.38),(1.04,0.42),(1.08,0.46),(0.94,0.42),
(0.77,0.88),(0.83,0.87),(0.89,0.88),(0.95,0.91),(1.01,0.90),(1.07,0.89),(1.13,0.89),(1.19,0.88),(1.25,0.87),(1.31,0.87),(1.37,0.87),(1.43,0.87),(1.49,0.84),(0.81,0.79),(0.87,0.81),(0.93,0.81),(0.99,0.84),(1.05,0.83),(1.11,0.83),(1.17,0.82),(1.23,0.81),(1.29,0.81),(1.35,0.81),(1.41,0.81),(1.47,0.80),(0.85,0.73),(0.91,0.75),(0.97,0.77),(1.03,0.77),(1.09,0.77),(1.15,0.76),(1.21,0.75),(1.27,0.75),(1.33,0.75),(0.89,0.68),(0.95,0.70),(1.01,0.71),(0.85,0.64),(0.91,0.62),(0.97,0.61),(0.89,0.52),(0.95,0.54)]
b_72 = [(0.76,0.68),(0.96,0.96),(1.02,1.02),(1.64,1.00),(1.74,1.00),(1.04,0.68),(1.10,0.74),(1.16,0.72),(1.22,0.70),(1.28,0.72),(1.34,0.72),(1.40,0.72),(1.00,0.62),(1.06,0.62),(1.12,0.68),(1.18,0.66),(1.24,0.64),(1.30,0.66),(1.36,0.68),(0.98,0.56),(1.04,0.56),(1.10,0.62),(1.46,0.74),(1.48,0.78),(1.02,0.44),(0.93,0.42),(1.05,0.34),(1.03,0.36),(1.10,0.44),
(1.07,0.71),(1.13,0.71),(1.19,0.69),(1.25,0.69),(1.31,0.69),(1.37,0.73),(1.43,0.75),(1.03,0.65),(1.09,0.65),(1.15,0.63),(1.21,0.65),(1.27,0.62),(1.33,0.63),(1.39,0.66),(1.01,0.59),(1.07,0.58),(1.13,0.60),(1.01,0.50),(1.05,0.52),(1.08,0.54)]
b_88 = [(1.11,0.31),(1.08,0.42),(1.14,0.46),(1.20,0.46),(1.12,0.54),(1.18,0.60),(1.24,0.58),(1.30,0.60),(1.16,0.52),(1.22,0.52),(1.28,0.54),(1.34,0.60),(1.40,0.64),(1.06,0.50),(1.46,0.68),(1.52,0.72),(0.75,0.61),(0.63,0.63),(1.12,0.96),(1.18,0.65),
(1.12,0.50),(1.18,0.49),(1.24,0.48),(1.15,0.57),(1.21,0.56),(1.27,0.57),(1.33,0.57),(1.39,0.60),(1.45,0.63),(1.10,0.58),(1.18,0.55),(1.25,0.54),(1.09,0.48),(1.14,0.42),(1.43,0.70),(1.49,0.74)]
b_98 = [(1.66,0.65),(1.62,0.70),(1.58,0.76),(1.55,0.76),(1.60,0.66),(1.52,0.57),(1.41,0.54),(1.37,0.50),(1.32,0.41),(1.23,0.34),(1.05,0.34),(1.01,0.40),(1.30,0.44),(1.14,0.39),(1.20,0.40),(1.26,0.44),(1.26,0.50),(1.32,0.48),(1.30,0.54),(1.36,0.56),(1.42,0.60),(1.48,0.62),(1.54,0.66),(1.56,0.62),(1.50,0.68),(1.44,0.66),(1.38,0.62),(1.58,0.70),(1.54,0.72),(1.48,0.56),(1.18,0.44),
(1.23,0.42),(1.29,0.48),(1.35,0.52),(1.39,0.57),(1.45,0.58),(1.51,0.62),(1.47,0.65),(1.53,0.69),(1.41,0.64),(1.35,0.46),(1.28,0.42),(1.22,0.46),(1.33,0.58),(1.57,0.66),(1.62,0.65)]
# panel b points whose colour stands out from their neighbours: (x, y, fraction)
b_mixed = [(1.66,1.59,8),(1.56,1.60,10),(1.50,1.66,8),(1.44,1.62,10),(1.62,1.60,6),(1.68,1.56,8),(1.72,1.50,8),(1.78,1.44,8),(1.84,1.41,8),(1.76,1.54,5),(1.90,1.36,8),(1.86,1.36,6),(1.98,1.28,8),(2.02,1.24,10),(1.96,1.22,12),(1.90,1.20,14),(2.00,1.18,14),(2.12,1.36,5),(2.18,1.42,5),(2.24,1.46,4),(2.28,1.52,4),(2.22,1.40,6),
(1.26,1.58,14),(1.20,1.54,16),(1.14,1.50,20),(1.18,1.44,20),(1.14,1.42,22),(1.08,1.34,26),(1.12,1.40,26),(1.34,1.58,12),(1.40,1.60,12),(1.48,1.56,14),(1.56,1.50,14),(1.26,1.46,18),(1.32,1.42,18),(1.42,1.38,18),(1.52,1.36,20),(1.62,1.34,18),(1.70,1.30,20),(1.80,1.28,20),(1.24,1.34,24),(1.34,1.34,24),(1.44,1.32,26),(1.54,1.28,28),(1.64,1.22,24),(1.74,1.20,26),(1.82,1.16,24),(1.20,1.26,32),(1.30,1.26,34),(1.40,1.24,34),(1.50,1.20,34),(1.60,1.16,32),(1.70,1.10,30),(1.76,1.08,32),(1.84,1.06,30),
(1.00,1.28,40),(1.06,1.24,44),(1.14,1.20,40),(1.24,1.20,44),(1.34,1.18,46),(1.44,1.14,44),(1.54,1.08,42),(1.62,1.04,40),(1.68,1.02,38),(0.94,1.18,46),(1.02,1.14,50),(1.12,1.14,50),(1.22,1.12,52),(1.32,1.10,50),(1.42,1.06,50),(1.52,1.02,48),(1.60,0.96,46),(1.66,0.98,44),(0.88,1.10,52),(0.96,1.06,54),(1.06,1.04,56),(1.16,1.00,54),(1.26,1.02,56),(1.36,1.00,54),(1.46,0.98,52),(0.78,1.00,56),(0.88,0.98,58),(0.98,0.96,62),(1.10,0.96,62),(1.22,0.98,58),(1.34,0.92,58),(1.44,0.92,56),(0.76,0.92,60),(0.90,0.90,64),(1.02,0.88,66),(1.14,0.88,66),(1.26,0.86,64),(1.38,0.86,62),(1.48,0.86,58),(0.84,0.82,62),(0.96,0.82,68),(1.08,0.82,72),(1.20,0.80,72),(1.32,0.80,68),(1.44,0.80,64),(0.90,0.74,66),(1.00,0.76,74),(1.12,0.76,80),(1.24,0.76,78),(1.36,0.76,70),(1.46,0.78,78),(0.92,0.66,72),(1.02,0.68,82),(1.14,0.68,88),(1.26,0.68,84),(1.38,0.70,82),(0.94,0.60,60),(1.04,0.62,84),(1.16,0.62,90),(1.28,0.62,90),(0.96,0.54,66),(1.06,0.56,86),(1.14,0.52,92),(0.90,0.50,50),(1.00,0.46,70),(0.92,0.60,40),(0.86,0.66,30),(1.24,0.60,30),(1.16,1.08,18),(1.30,0.98,22),(1.10,0.82,14),(1.22,0.92,20),(1.08,0.70,25),(1.02,0.74,20),(0.94,0.78,18),(1.38,0.90,16)]

a_classes = [(98, a_98), (88, a_88), (72, a_72), (58, a_58), (42, a_42), (25, a_25), (12, a_12), (3, a_03)]
b_classes = [(98, b_98), (88, b_88), (72, b_72), (58, b_58), (42, b_42), (25, b_25), (12, b_12), (3, b_03)]

a_fit_x = [0.10, 2.29, 3.82]
a_fit_y = [0.58, 2.35, 3.56]
b_fit_x = [0.36, 1.74, 2.67]
b_fit_y = [0.19, 1.375, 2.15]

W, H = 1253, 563


def box(left, top, right, bottom):
	return [left / W, 1 - bottom / H, (right - left) / W, (bottom - top) / H]


def drawPanel(ax, classes, mixed, fit_x, fit_y, lim, grid, title, eq, eq_size, xlabel, ylabel):
	for y in grid:
		ax.axhline(y, color="#bdbdbd", lw=1, ls="-.", zorder=1)
	for frac, pts in classes:
		x, y = zip(*pts)
		sc = ax.scatter(x, y, c=[frac] * len(pts), cmap="viridis", vmin=0, vmax=100, s=40, linewidths=0, zorder=2)
	x, y, frac = zip(*mixed)
	ax.scatter(x, y, c=frac, cmap="viridis", vmin=0, vmax=100, s=40, linewidths=0, zorder=2)
	ax.plot([0, lim], [0, lim], color="black", lw=1.3, zorder=3)
	ax.plot(fit_x[:2], fit_y[:2], color="red", lw=1.5, zorder=4)
	ax.plot(fit_x[1:], fit_y[1:], color="red", lw=1.5, ls="--", zorder=4)
	ax.set_xlim(0, lim)
	ax.set_ylim(0, lim)
	ax.xaxis.set_major_locator(MultipleLocator(1))
	ax.yaxis.set_major_locator(MultipleLocator(1))
	ax.xaxis.set_minor_locator(MultipleLocator(0.2))
	ax.yaxis.set_minor_locator(MultipleLocator(0.2))
	ax.xaxis.set_major_formatter("{x:.1f}")
	ax.yaxis.set_major_formatter("{x:.1f}")
	ax.tick_params(which="major", direction="inout", length=7, width=1.3, labelsize=17.5, pad=3)
	ax.tick_params(which="minor", direction="in", length=5, width=1.2)
	for s in ax.spines.values():
		s.set_linewidth(1.5)
	ax.set_xlabel(xlabel, fontsize=16.4, fontweight="bold", labelpad=0)
	ax.set_ylabel(ylabel, fontsize=16.4, fontweight="bold", labelpad=0)
	ax.text(0.025, 0.962, title, transform=ax.transAxes, fontsize=16.8, fontweight="bold", va="center", ha="left", zorder=6)
	ax.text(0.975, 0.052, eq, transform=ax.transAxes, fontsize=eq_size, fontweight="bold", va="center", ha="right", zorder=6)
	return sc


fig = plt.figure(figsize=(12.53, 5.63), dpi=100)
ax1 = fig.add_axes(box(78, 22, 558, 502))
ax2 = fig.add_axes(box(643, 22, 1122, 502))
cax = fig.add_axes(box(1137, 69, 1165, 477))

drawPanel(ax1, a_classes, a_mixed, a_fit_x, a_fit_y, 5, [1, 2, 3, 4],
	"a). MRE = 15.06%,RMSE = 27.0%,R² = 0.58", r"$y$ = 0.8 $x$ + 0.51", 16,
	r"GIMMS LAI3g/m$^{\mathbf{2}}$ m$^{\mathbf{-2}}$", r"Modelled LAI/m$^{\mathbf{2}}$ m$^{\mathbf{-2}}$")
sc = drawPanel(ax2, b_classes, b_mixed, b_fit_x, b_fit_y, 3, [1, 2],
	"b). MRE = 22.98%,RMSE = 23.06%,R² = 0.66", r"$y$ = 0.85$x$ − 0.11", 15.8,
	r"GOSIF GPP/kg C m$^{\mathbf{-2}}$", r"Modelled GPP/kg C m$^{\mathbf{-2}}$")

cb = fig.colorbar(sc, cax=cax, ticks=[0, 20, 40, 60, 80, 100])
cb.outline.set_visible(False)
cb.ax.tick_params(length=0, labelsize=17.5, pad=2)
fig.text(1132 / W, 1 - 32 / H, "Cropland\nfraction/%", fontsize=16.8, fontweight="bold", va="center", ha="left", linespacing=1.3)

fig.savefig("out.png", dpi=100)
